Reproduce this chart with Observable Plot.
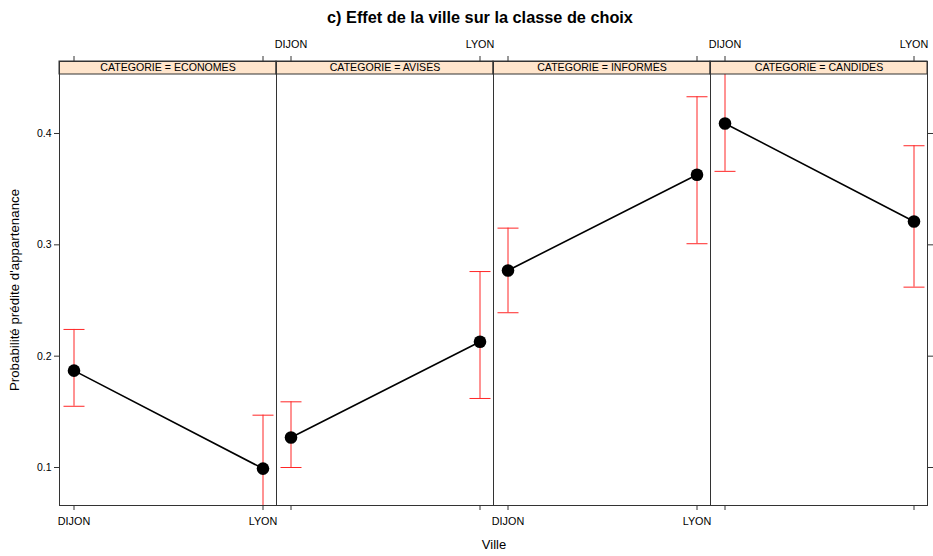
<!DOCTYPE html>
<html><head><meta charset="utf-8">
<script src="https://cdn.jsdelivr.net/npm/d3@7"></script>
<script src="https://cdn.jsdelivr.net/npm/@observablehq/plot@0.6"></script>
<style>
body{margin:0;background:#fff;font-family:"Liberation Sans",Arial,sans-serif;}
#wrap{position:relative;width:933px;height:556px;overflow:hidden;}
#title{position:absolute;left:0;top:0;width:960px;height:34px;text-align:center;font-weight:bold;font-size:16.3px;line-height:34px;color:#000;}
#chart{position:absolute;left:0;top:34px;}
#ylab{position:absolute;left:14px;top:290px;transform:translate(-50%,-50%) rotate(-90deg);white-space:nowrap;font-size:13.3px;color:#000;}
#xlab{position:absolute;left:494px;top:544px;transform:translate(-50%,-50%);white-space:nowrap;font-size:13px;color:#000;}
</style></head><body>
<div id="wrap">
<div id="title">c) Effet de la ville sur la classe de choix</div>
<div id="chart"></div>
<div id="ylab">Probabilité prédite d'appartenance</div>
<div id="xlab">Ville</div>
</div>
<script>
const categories = ["ECONOMES", "AVISÉS", "INFORMÉS", "CANDIDES"];
const villes = ["DIJON", "LYON"];
const yTicks = [0.1, 0.2, 0.3, 0.4];
const fitDijon = [0.187, 0.127, 0.277, 0.409];
const fitLyon = [0.099, 0.213, 0.363, 0.321];
const lowerDijon = [0.155, 0.100, 0.239, 0.366];
const lowerLyon = [0.055, 0.162, 0.301, 0.262];
const upperDijon = [0.224, 0.159, 0.315, 0.470];
const upperLyon = [0.147, 0.276, 0.433, 0.389];

const rows = categories.flatMap((c, i) => [
  {cat: c, ville: villes[0], fit: fitDijon[i], lo: lowerDijon[i], hi: upperDijon[i]},
  {cat: c, ville: villes[1], fit: fitLyon[i], lo: lowerLyon[i], hi: upperLyon[i]}
]);
// lattice alternates the x labels: bottom on panels 1 & 3, top on panels 2 & 4
const bottomLabels = categories.filter((c, i) => i % 2 === 0).flatMap(c => villes.map(v => ({cat: c, ville: v})));
const topLabels = categories.filter((c, i) => i % 2 === 1).flatMap(c => villes.map(v => ({cat: c, ville: v})));

const capSymbol = {draw(ctx, size) { const r = Math.sqrt(size / Math.PI); ctx.moveTo(-r, 0); ctx.lineTo(r, 0); }};
const stripH = 13;
const strip = (index, scales, values, dims) => {
  const {marginLeft, marginRight, marginTop, width} = dims;
  const g = d3.create("svg:g");
  g.append("rect")
    .attr("x", marginLeft).attr("y", marginTop)
    .attr("width", width - marginLeft - marginRight).attr("height", stripH)
    .attr("fill", "#ffe5cc").attr("stroke", "#333").attr("stroke-width", 1);
  return g.node();
};
const red = "#ff2626";

const chart = Plot.plot({
  width: 933, height: 522,
  marginTop: 27, marginBottom: 51, marginLeft: 58.5, marginRight: 5.5,
  style: {fontFamily: "Liberation Sans, Arial, sans-serif", fontSize: "10px", color: "#000", background: "#fff", overflow: "visible"},
  fx: {domain: categories, padding: 0, axis: null, label: null},
  x: {domain: villes, type: "point", padding: 0.072, axis: null},
  y: {domain: [0.06587, 0.46467], axis: null},
  marks: [
    Plot.ruleX(rows, {fx: "cat", x: "ville", y1: "lo", y2: "hi", stroke: red, strokeWidth: 1, clip: true}),
    Plot.dot(rows, {fx: "cat", x: "ville", y: "lo", symbol: capSymbol, r: 10.5, stroke: red, fill: "none", strokeWidth: 1, clip: true}),
    Plot.dot(rows, {fx: "cat", x: "ville", y: "hi", symbol: capSymbol, r: 10.5, stroke: red, fill: "none", strokeWidth: 1, clip: true}),
    Plot.line(rows, {fx: "cat", x: "ville", y: "fit", stroke: "#000", strokeWidth: 1.6}),
    Plot.dot(rows, {fx: "cat", x: "ville", y: "fit", r: 6.3, fill: "#000", stroke: "none"}),
    strip,
    Plot.text(categories, {fx: d => d, text: d => "CATEGORIE = " + d, frameAnchor: "top", dy: stripH / 2, lineAnchor: "middle", fontSize: 10.6, fill: "#000"}),
    Plot.frame({stroke: "#333"}),
    Plot.axisX({anchor: "bottom", tickSize: 5, tickFormat: () => "", label: null, stroke: "#333"}),
    Plot.axisX({anchor: "top", tickSize: 6, tickFormat: () => "", label: null, stroke: "#333"}),
    Plot.axisY(yTicks, {anchor: "left", tickSize: 5, tickPadding: 3, tickFormat: d3.format(".1f"), label: null, stroke: "#333", fontSize: 10.5}),
    Plot.axisY(yTicks, {anchor: "right", tickSize: 5, tickFormat: () => "", label: null, stroke: "#333"}),
    Plot.text(bottomLabels, {fx: "cat", x: "ville", text: "ville", frameAnchor: "bottom", dy: 16, lineAnchor: "middle", fontSize: 10.8, fill: "#000"}),
    Plot.text(topLabels, {fx: "cat", x: "ville", text: "ville", frameAnchor: "top", dy: -17, lineAnchor: "middle", fontSize: 10.8, fill: "#000"})
  ]
});
document.getElementById("chart").appendChild(chart);
</script>
</body></html>
